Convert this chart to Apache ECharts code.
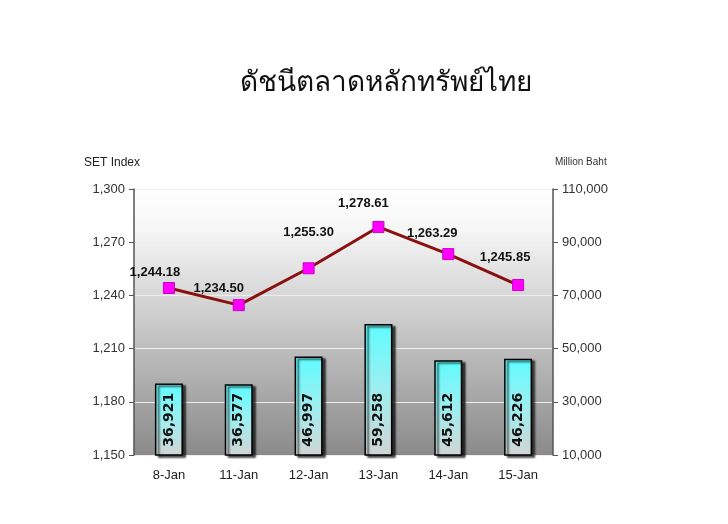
<!DOCTYPE html>
<html>
<head>
<meta charset="utf-8">
<script src="https://cdn.jsdelivr.net/npm/echarts@6/dist/echarts.min.js"></script>
<style>
html,body{margin:0;padding:0;background:#fff;}
#c{width:728px;height:524px;}
</style>
</head>
<body>
<div id="c"></div>
<script>
var categories = ['8-Jan', '11-Jan', '12-Jan', '13-Jan', '14-Jan', '15-Jan'];
var tradingValue = [36921, 36577, 46997, 59258, 45612, 46226];
var setIndex = [1244.18, 1234.50, 1255.30, 1278.61, 1263.29, 1245.85];
var titleText = 'ดัชนีตลาดหลักทรัพย์ไทย';
var leftAxisName = 'SET Index';
var rightAxisName = 'Million Baht';

// label style offsets (presentation only)
var lineLabelOffsets = [[-14, 7], [-20, 6], [0, -13], [-15, -1], [-16, 2], [-13, -5]];

var narrow = '"Liberation Sans Narrow", "Arial Narrow", "Liberation Sans", Arial, sans-serif';
function fmt(v) { return Number(v).toLocaleString('en-US'); }
function fmt2(v) { return Number(v).toLocaleString('en-US', {minimumFractionDigits: 2, maximumFractionDigits: 2}); }

var chart = echarts.init(document.getElementById('c'), null, {renderer: 'canvas'});
chart.setOption({
  animation: false,
  title: {
    text: titleText,
    left: 381, top: 64, textAlign: 'center',
    textStyle: {fontSize: 28, fontWeight: 'normal', color: '#111', fontFamily: '"Noto Sans", "DejaVu Sans", sans-serif'}
  },
  grid: {
    left: 134, right: 175, top: 189, bottom: 69,
    show: true, borderWidth: 0,
    backgroundColor: new echarts.graphic.LinearGradient(0, 0, 0, 1, [
      {offset: 0, color: '#ffffff'},
      {offset: 0.15, color: '#f6f6f6'},
      {offset: 0.55, color: '#c4c4c4'},
      {offset: 1, color: '#8a8a8a'}
    ])
  },
  xAxis: {
    type: 'category',
    data: categories,
    boundaryGap: true,
    axisLine: {show: false},
    axisTick: {show: false},
    axisLabel: {color: '#222', fontSize: 13, fontFamily: narrow, margin: 14}
  },
  yAxis: [{
    type: 'value',
    min: 1150, max: 1300, interval: 30,
    position: 'left',
    name: leftAxisName,
    nameLocation: 'end', nameGap: 20,
    nameTextStyle: {color: '#222', fontSize: 12, fontFamily: narrow, align: 'right', padding: [0, -6, 0, 0]},
    axisLine: {show: true, lineStyle: {color: '#555', width: 1.5}},
    axisTick: {show: true, length: 5, lineStyle: {color: '#555'}},
    axisLabel: {color: '#333', fontSize: 13, fontFamily: narrow, margin: 9, formatter: fmt},
    splitLine: {show: true, lineStyle: {color: '#eeeeee', width: 1}}
  }, {
    type: 'value',
    min: 10000, max: 110000, interval: 20000,
    position: 'right',
    name: rightAxisName,
    nameLocation: 'end', nameGap: 22,
    nameTextStyle: {color: '#333', fontSize: 10, fontFamily: narrow, align: 'left', padding: [0, 0, 0, 2]},
    axisLine: {show: true, lineStyle: {color: '#555', width: 1.5}},
    axisTick: {show: true, length: 5, lineStyle: {color: '#555'}},
    axisLabel: {color: '#333', fontSize: 13, fontFamily: narrow, margin: 9, formatter: fmt},
    splitLine: {show: false}
  }],
  series: [{
    type: 'bar',
    yAxisIndex: 1,
    data: tradingValue,
    barWidth: 28,
    itemStyle: {
      color: new echarts.graphic.LinearGradient(0, 0, 0, 1, [
        {offset: 0, color: '#5ffcff'},
        {offset: 0.5, color: '#9eeef0'},
        {offset: 1, color: '#d2d4d4'}
      ]),
      borderColor: '#000', borderWidth: 1.5,
      shadowColor: 'rgba(0,0,0,0.7)', shadowOffsetX: 3, shadowOffsetY: 2, shadowBlur: 2
    },
    label: {
      show: true, position: 'insideBottom', distance: 9, rotate: 90,
      align: 'left', verticalAlign: 'middle',
      color: '#111', fontWeight: 'bold', fontSize: 14, fontFamily: '"DejaVu Sans", Arial, sans-serif',
      formatter: function (p) { return fmt(p.value); }
    },
    z: 2
  }, {
    type: 'line',
    yAxisIndex: 0,
    data: setIndex.map(function (v, i) {
      return {value: v, label: {offset: lineLabelOffsets[i]}};
    }),
    symbol: 'rect', symbolSize: 11,
    lineStyle: {color: '#8b1010', width: 3},
    itemStyle: {color: '#ff00ff', borderColor: '#cc00cc', borderWidth: 1},
    label: {
      show: true, position: 'top', distance: 10,
      color: '#111', fontWeight: 'bold', fontSize: 13, fontFamily: 'Arial, "Liberation Sans", sans-serif',
      formatter: function (p) { return fmt2(p.value); }
    },
    z: 3
  }]
});
</script>
</body>
</html>
